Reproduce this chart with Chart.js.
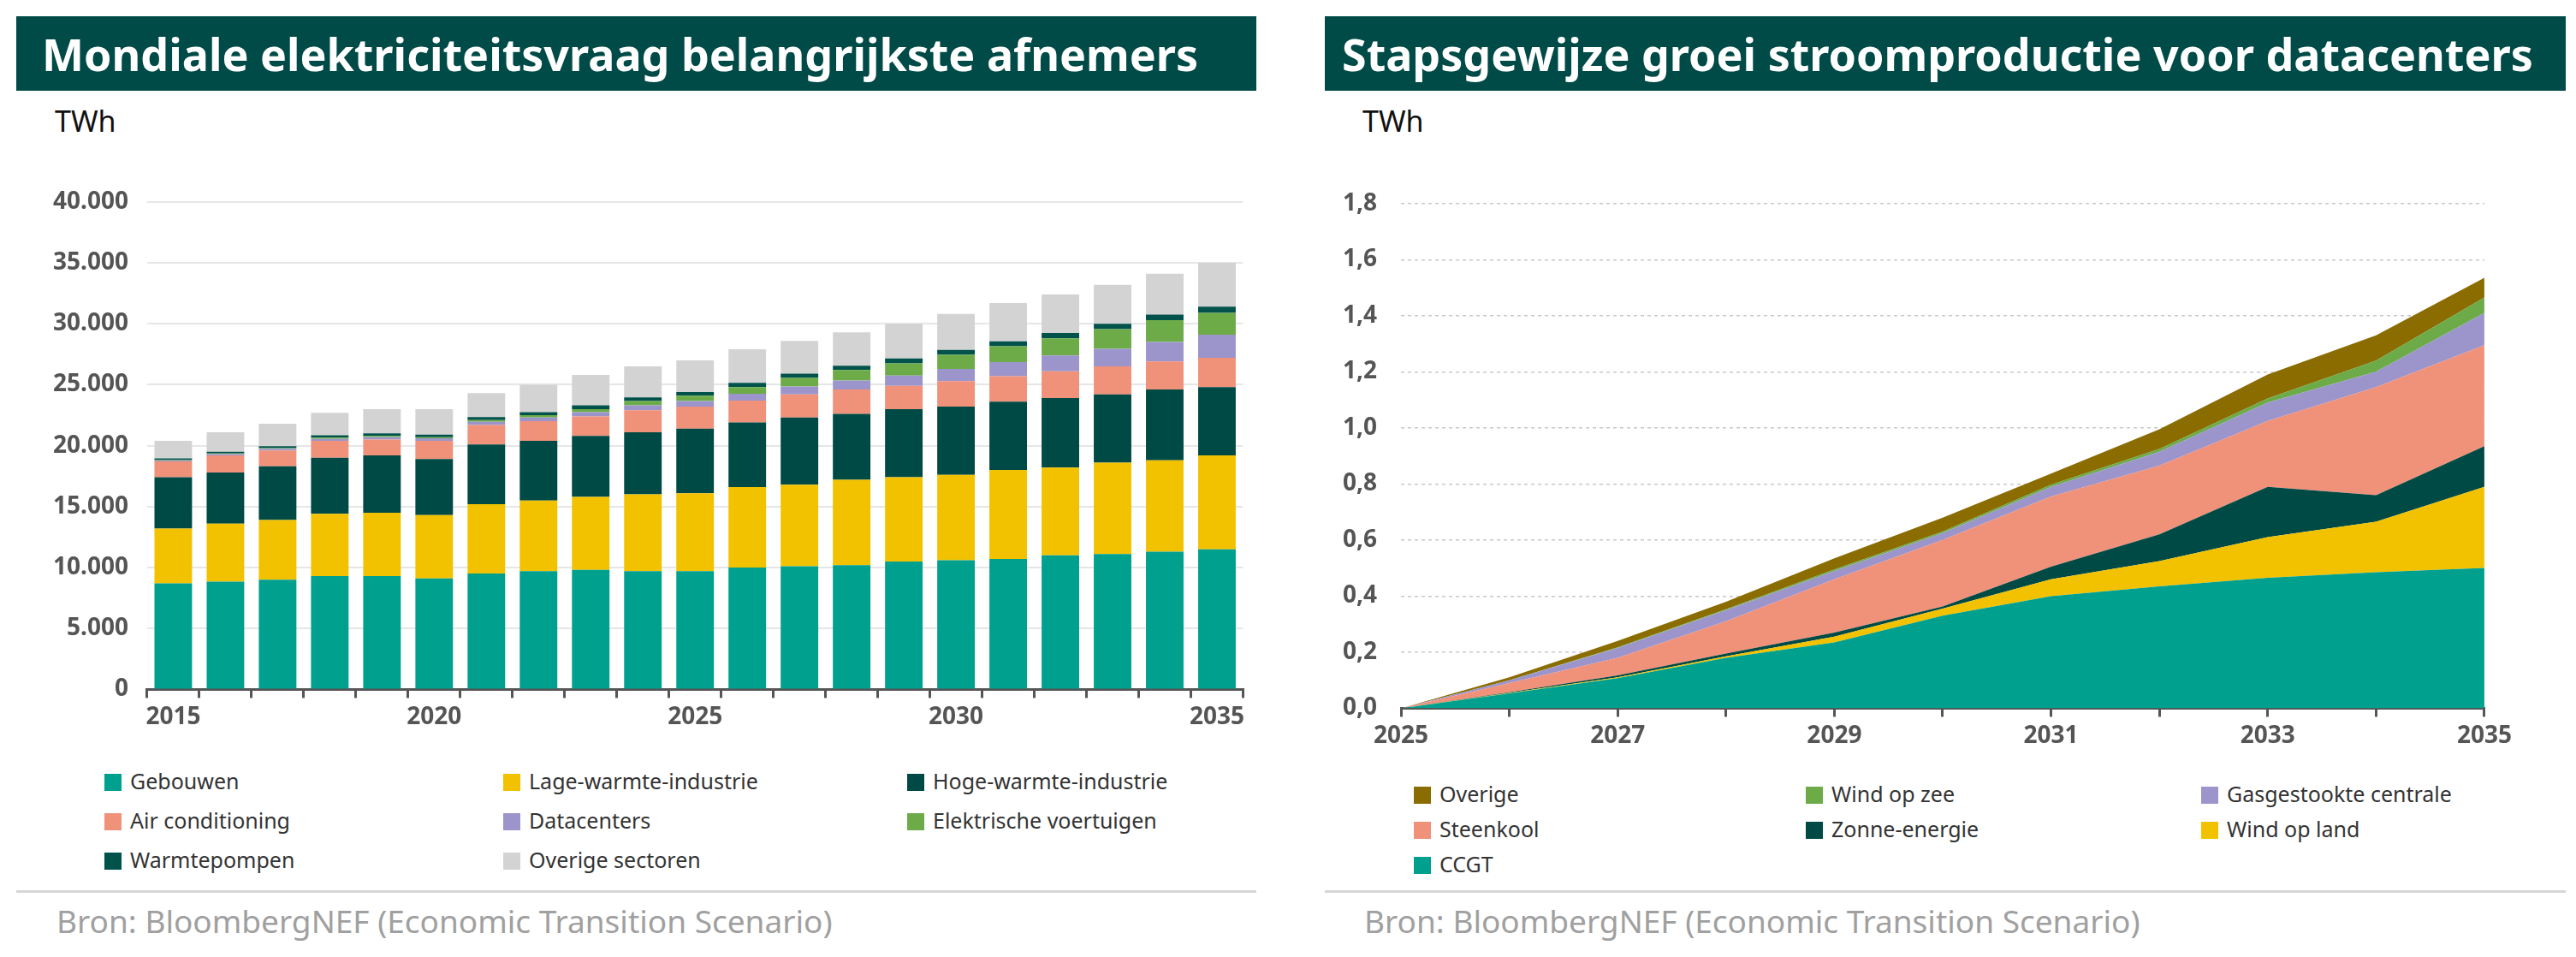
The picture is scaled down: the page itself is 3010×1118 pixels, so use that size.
<!DOCTYPE html>
<html>
<head>
<meta charset="utf-8">
<script src="https://cdn.jsdelivr.net/npm/chart.js@4.4.1/dist/chart.umd.min.js"></script>
<style>
  body { margin:0; background:#fff; width:3010px; height:1118px; position:relative; overflow:hidden; font-family:"Noto Sans", sans-serif; }
  .title { position:absolute; top:19px; height:87px; background:#004b47; color:#fff; font-weight:bold; font-size:52px; line-height:87px; padding-left:30px; box-sizing:border-box; white-space:nowrap; }
  .unit { position:absolute; top:118px; font-size:34px; color:#111; }
  .box { position:absolute; }
  .legend { position:absolute; font-size:25px; color:#333; }
  .legend div { position:absolute; white-space:nowrap; }
  .legend span { display:inline-block; width:20px; height:20px; margin-right:10px; vertical-align:-2px; }
  .rule { position:absolute; top:1040px; height:3px; background:#d6d6d6; }
  .src { position:absolute; top:1050px; font-size:37px; color:#a0a0a0; }
</style>
</head>
<body>
<div class="title" style="left:19px;width:1449px;">Mondiale elektriciteitsvraag belangrijkste afnemers</div>
<div class="title" style="left:1548px;width:1450px;padding-left:20px;">Stapsgewijze groei stroomproductie voor datacenters</div>
<div class="unit" style="left:64px;">TWh</div>
<div class="unit" style="left:1592px;">TWh</div>
<div class="box" style="left:40px;top:197px;width:1420px;height:664px;"><canvas id="c1"></canvas></div>
<div class="box" style="left:1541px;top:193px;width:1400px;height:690px;"><canvas id="c2"></canvas></div>
<div class="legend" id="l1"></div>
<div class="legend" id="l2"></div>
<div class="rule" style="left:19px;width:1449px;"></div>
<div class="rule" style="left:1548px;width:1450px;"></div>
<div class="src" style="left:66px;">Bron: BloombergNEF (Economic Transition Scenario)</div>
<div class="src" style="left:1594px;">Bron: BloombergNEF (Economic Transition Scenario)</div>
<script>
// links: vraag per sector (TWh)
var years1 = [2015,2016,2017,2018,2019,2020,2021,2022,2023,2024,2025,2026,2027,2028,2029,2030,2031,2032,2033,2034,2035];
var gebouwen = [8700,8850,9000,9300,9300,9100,9500,9700,9800,9700,9700,10000,10100,10200,10500,10600,10700,11000,11100,11300,11500];
var lageWarmte = [4500,4750,4900,5100,5200,5200,5700,5800,6000,6300,6400,6600,6700,7000,6900,7000,7300,7200,7500,7500,7700];
var hogeWarmte = [4200,4200,4400,4600,4700,4600,4900,4900,5000,5100,5300,5300,5500,5400,5600,5600,5600,5700,5600,5800,5600];
var airco = [1300,1400,1300,1400,1300,1500,1600,1600,1600,1800,1800,1800,1900,2000,1900,2100,2100,2200,2300,2300,2400];
var datacenters = [100,100,150,150,200,200,250,300,350,400,450,550,650,750,850,1000,1150,1300,1450,1600,1900];
var ev = [50,50,50,100,100,100,150,200,250,350,450,550,700,850,1000,1150,1300,1400,1600,1800,1800];
var warmtepompen = [100,150,150,200,200,200,250,250,300,300,300,350,350,350,400,400,400,450,450,450,500];
var overigeSectoren = [1450,1600,1850,1850,2000,2100,1950,2250,2500,2550,2600,2750,2700,2750,2850,2950,3150,3150,3200,3350,3600];

// rechts: stroomproductie voor datacenters (TWh)
var years2 = [2025,2026,2027,2028,2029,2030,2031,2032,2033,2034,2035];
var ccgt = [0,0.053,0.107,0.18,0.235,0.33,0.40,0.435,0.465,0.485,0.50];
var windLand = [0,0.002,0.003,0.005,0.02,0.025,0.06,0.09,0.145,0.18,0.29];
var zonne = [0,0.002,0.007,0.01,0.015,0.008,0.045,0.095,0.18,0.095,0.145];
var steenkool = [0,0.033,0.063,0.115,0.19,0.237,0.25,0.245,0.235,0.385,0.36];
var gas = [0,0.01,0.035,0.04,0.03,0.025,0.035,0.05,0.065,0.055,0.115];
var windZee = [0,0,0.002,0.003,0.005,0.005,0.007,0.01,0.015,0.04,0.055];
var overige = [0,0.01,0.023,0.027,0.04,0.05,0.04,0.07,0.085,0.09,0.07];

var C = { teal:'#00a08f', yellow:'#f2c200', dark:'#004a45', salmon:'#f0917a', purple:'#9b95cc', green:'#6cab48', grey:'#d3d3d3', olive:'#8a6c00' };
var tickFont = { family:'Noto Sans', size:28, weight:'bold' };

var set1 = [
  ['Gebouwen', gebouwen, C.teal], ['Lage-warmte-industrie', lageWarmte, C.yellow], ['Hoge-warmte-industrie', hogeWarmte, C.dark],
  ['Air conditioning', airco, C.salmon], ['Datacenters', datacenters, C.purple], ['Elektrische voertuigen', ev, C.green],
  ['Warmtepompen', warmtepompen, '#00524a'], ['Overige sectoren', overigeSectoren, C.grey]
];
new Chart(document.getElementById('c1'), {
  type:'bar',
  data:{ labels:years1, datasets:set1.map(function(s){ return {label:s[0], data:s[1], backgroundColor:s[2], barPercentage:0.72, categoryPercentage:1}; }) },
  options:{
    responsive:true, maintainAspectRatio:false, animation:false,
    plugins:{ legend:{display:false}, tooltip:{enabled:false} },
    scales:{
      x:{ stacked:true,
          grid:{ offset:true, drawOnChartArea:false, tickLength:10, color:'#555', lineWidth:3 },
          border:{ color:'#555', width:3 },
          ticks:{ font:tickFont, color:'#555', autoSkip:false, maxRotation:0, padding:6,
                  callback:function(v,i){ return years1[i] % 5 === 0 ? years1[i] : ''; } } },
      y:{ stacked:true, min:0, max:40000,
          grid:{ color:'#e6e6e6', lineWidth:2, drawTicks:false },
          border:{ display:false },
          ticks:{ stepSize:5000, font:tickFont, color:'#555', padding:22,
                  callback:function(v){ return v.toLocaleString('nl-NL'); } } }
    }
  }
});

var set2 = [
  ['CCGT', ccgt, C.teal], ['Wind op land', windLand, C.yellow], ['Zonne-energie', zonne, C.dark], ['Steenkool', steenkool, C.salmon],
  ['Gasgestookte centrale', gas, C.purple], ['Wind op zee', windZee, C.green], ['Overige', overige, C.olive]
];
new Chart(document.getElementById('c2'), {
  type:'line',
  data:{ labels:years2, datasets:set2.map(function(s,i){ return {label:s[0], data:s[1], backgroundColor:s[2], borderWidth:0, pointRadius:0, fill: i === 0 ? 'origin' : '-1'}; }) },
  options:{
    responsive:true, maintainAspectRatio:false, animation:false,
    plugins:{ legend:{display:false}, tooltip:{enabled:false} },
    scales:{
      x:{ offset:false,
          grid:{ drawOnChartArea:false, tickLength:10, color:'#555', lineWidth:3 },
          border:{ color:'#555', width:3 },
          ticks:{ font:tickFont, color:'#555', autoSkip:false, maxRotation:0, padding:6,
                  callback:function(v,i){ return years2[i] % 2 === 1 ? years2[i] : ''; } } },
      y:{ stacked:true, min:0, max:1.8,
          grid:{ color:'#c8c8c8', lineWidth:1.5, drawTicks:false },
          border:{ display:false, dash:[4,4] },
          ticks:{ stepSize:0.2, font:tickFont, color:'#555', padding:28,
                  callback:function(v){ return v.toFixed(1).replace('.', ','); } } }
    }
  }
});

function legend(el, items, left, top, colX, rowH) {
  var box = document.getElementById(el);
  box.style.left = left + 'px'; box.style.top = top + 'px';
  items.forEach(function(s, i){
    var d = document.createElement('div');
    d.style.left = colX[i % 3] + 'px'; d.style.top = Math.floor(i / 3) * rowH + 'px';
    d.innerHTML = '<span style="background:' + s[2] + '"></span>' + s[0];
    box.appendChild(d);
  });
}
legend('l1', set1, 122, 895, [0, 466, 938], 46);
legend('l2', set2.slice().reverse(), 1652, 910, [0, 458, 920], 41);
</script>
</body>
</html>
